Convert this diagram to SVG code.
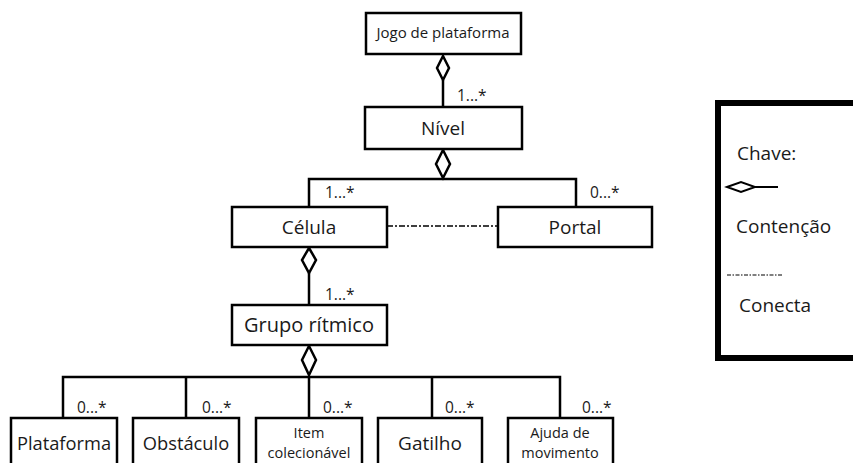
<svg xmlns="http://www.w3.org/2000/svg" width="853" height="463" viewBox="0 0 853 463">
<style>
.box{fill:#fff;stroke:#000;stroke-width:2.5}
.ln{fill:none;stroke:#000;stroke-width:2.5}
.dia{fill:#fff;stroke:#000;stroke-width:2.5;stroke-linejoin:miter}
.t{font-family:"Open Sans","Noto Sans","Liberation Sans",sans-serif;fill:#1a1a1a;text-anchor:middle}
.big{font-size:19px}
.sm{font-size:14.5px}
.m{font-family:"Open Sans","Noto Sans","Liberation Sans",sans-serif;fill:#1a1a1a;font-size:15.5px}
.dd{fill:none;stroke:#000;stroke-width:1.5;stroke-dasharray:6 2 2 2}
</style>
<rect width="853" height="463" fill="#fff"/>
<g id="connectors">
<line class="ln" x1="443" y1="80" x2="443" y2="107"/>
<polygon class="dia" points="443,56 449,68 443,80 437,68"/>
<path class="ln" d="M309,207 V179 H576 V207"/>
<polygon class="dia" points="443,150 450,164 443,178 436,164"/>
<line class="dd" x1="387" y1="226" x2="498" y2="226"/>
<line class="ln" x1="309" y1="273" x2="309" y2="305"/>
<polygon class="dia" points="309,248 316,260 309,273 302,260"/>
<path class="ln" d="M63,418 V377 H560 V418 M186,377 V418 M309,377 V418 M432,377 V418"/>
<polygon class="dia" points="309,346 316,360 309,375 302,360"/>
<text class="m" x="457" y="101">1...*</text>
<text class="m" x="325" y="198">1...*</text>
<text class="m" x="590" y="198">0...*</text>
<text class="m" x="325" y="300">1...*</text>
<text class="m" x="77" y="413">0...*</text>
<text class="m" x="202" y="413">0...*</text>
<text class="m" x="323" y="413">0...*</text>
<text class="m" x="445" y="413">0...*</text>
<text class="m" x="582" y="413">0...*</text>
</g>
<g id="jogo">
<rect class="box" x="366" y="13" width="155" height="41"/>
<text class="t" x="443" y="38" style="font-size:15px">Jogo de plataforma</text>
</g>
<g id="nivel">
<rect class="box" x="365" y="107" width="157" height="42"/>
<text class="t big" x="443" y="135">Nível</text>
</g>
<g id="celula">
<rect class="box" x="232" y="207" width="155" height="40"/>
<text class="t big" x="309" y="234">Célula</text>
</g>
<g id="portal">
<rect class="box" x="498" y="207" width="154" height="40"/>
<text class="t big" x="575" y="234">Portal</text>
</g>
<g id="grupo">
<rect class="box" x="232" y="305" width="155" height="40"/>
<text class="t big" x="309" y="332" style="font-size:20px">Grupo rítmico</text>
</g>
<g id="plataforma">
<rect class="box" x="11" y="418" width="106" height="60"/>
<text class="t" x="64" y="450" style="font-size:18.3px">Plataforma</text>
</g>
<g id="obstaculo">
<rect class="box" x="133" y="418" width="106" height="60"/>
<text class="t" x="186" y="450" style="font-size:18.3px">Obstáculo</text>
</g>
<g id="item">
<rect class="box" x="256" y="418" width="106" height="60"/>
<text class="t sm" x="309" y="438">Item</text>
<text class="t sm" x="309" y="458">colecionável</text>
</g>
<g id="gatilho">
<rect class="box" x="378" y="418" width="104" height="60"/>
<text class="t big" x="430" y="450">Gatilho</text>
</g>
<g id="ajuda">
<rect class="box" x="508" y="418" width="105" height="60"/>
<text class="t sm" x="560" y="438">Ajuda de</text>
<text class="t sm" x="560" y="458">movimento</text>
</g>
<g id="legenda">
<rect x="718" y="103" width="160" height="255" fill="#fff" stroke="#000" stroke-width="6"/>
<text class="m" x="737" y="160" style="font-size:19px">Chave:</text>
<polygon points="727,187 741,182 755,187 741,192" fill="#fff" stroke="#000" stroke-width="2"/>
<line x1="755" y1="187" x2="778" y2="187" stroke="#000" stroke-width="2"/>
<text class="m" x="736" y="233" style="font-size:19px">Contenção</text>
<line class="dd" x1="727" y1="275" x2="782" y2="275" style="stroke-width:1.2;stroke-dasharray:4 1.5 1.5 1.5"/>
<text class="m" x="739" y="312" style="font-size:19px">Conecta</text>
</g>
</svg>
